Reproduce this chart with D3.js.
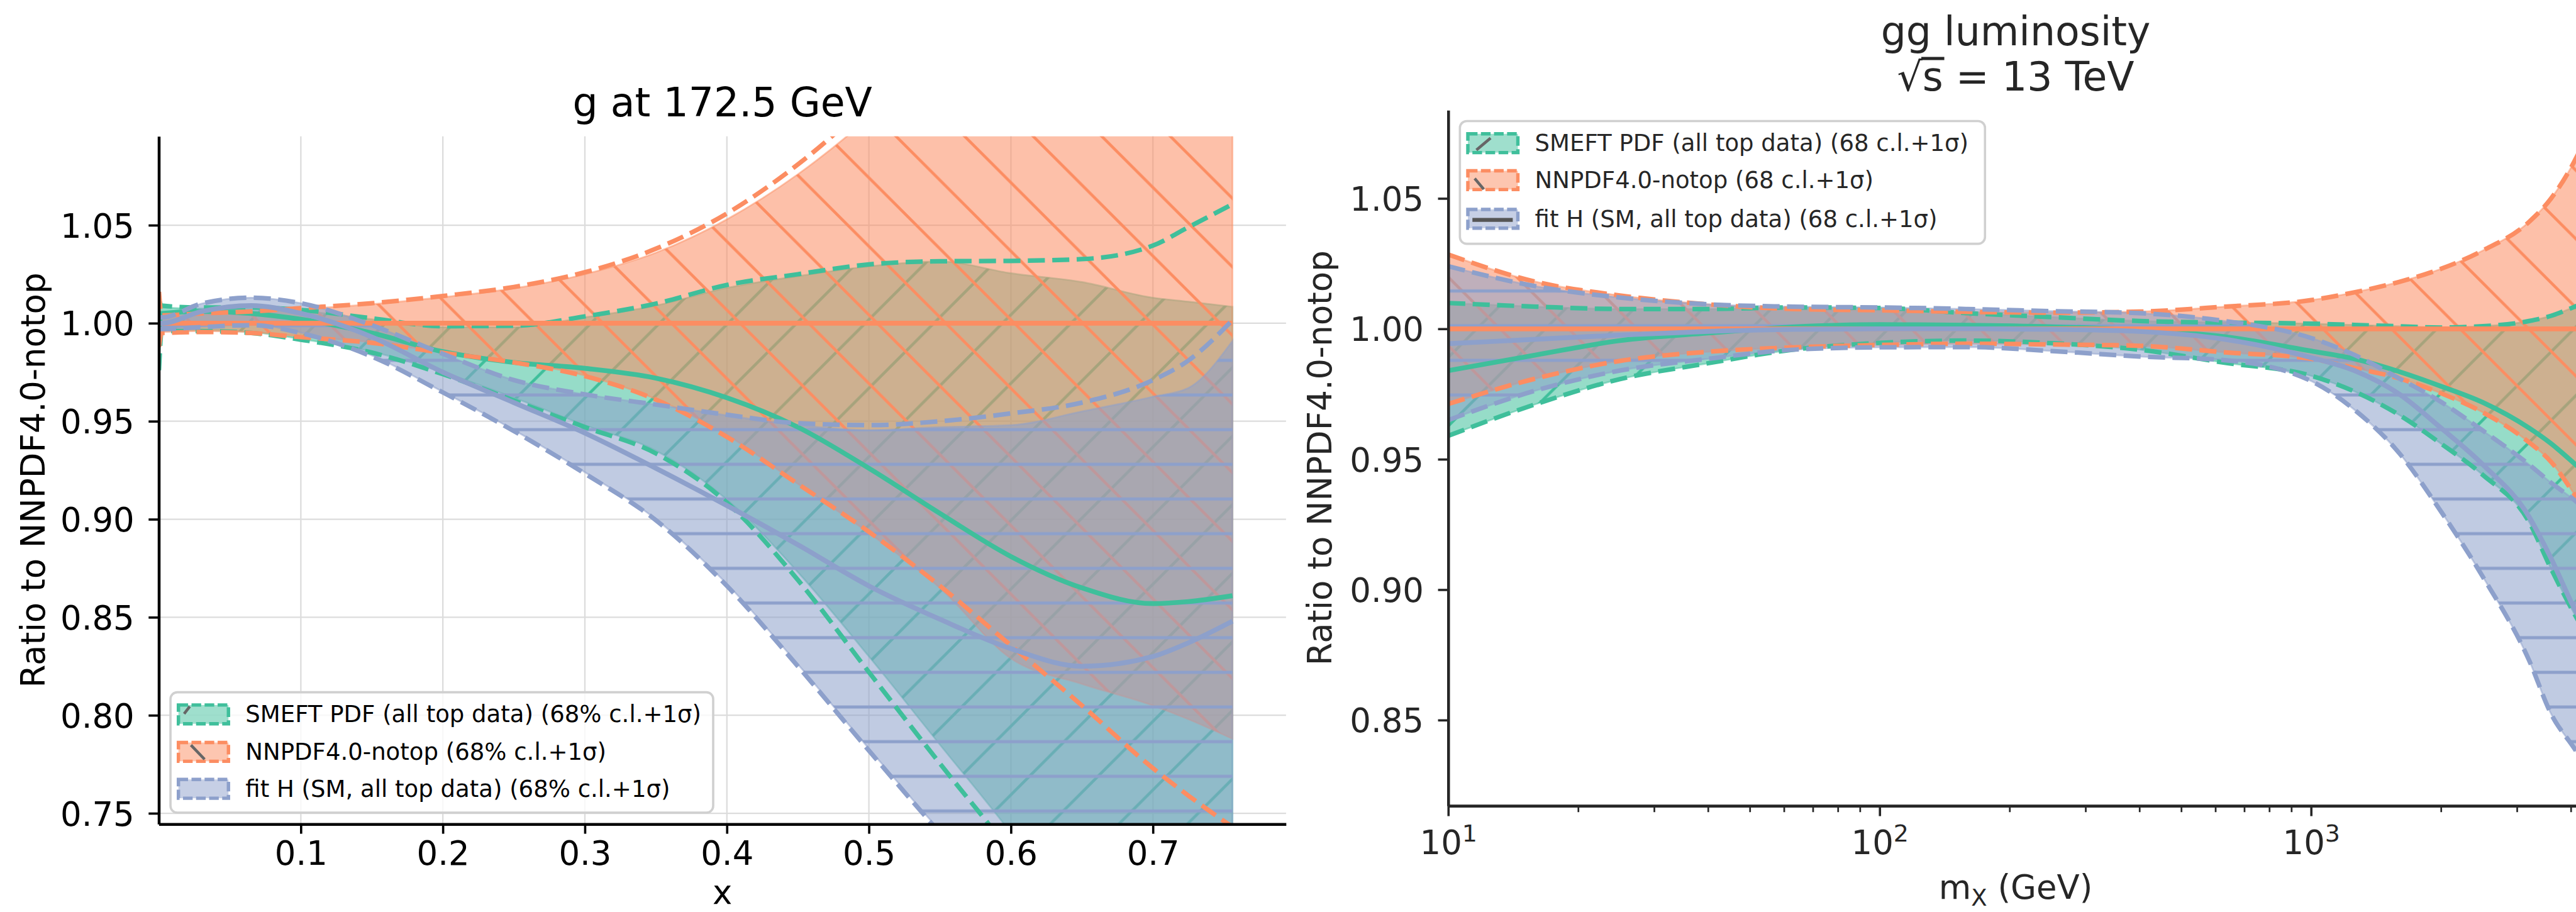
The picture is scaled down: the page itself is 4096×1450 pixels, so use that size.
<!DOCTYPE html>
<html>
<head>
<meta charset="utf-8">
<title>g at 172.5 GeV / gg luminosity</title>
<script src="https://cdn.jsdelivr.net/npm/d3@7"></script>
<style>
  body { margin: 0; background: #fff; }
  svg { display: block; font-family: "DejaVu Sans", sans-serif; }
</style>
</head>
<body>
<svg id="chart" width="4096" height="1450"></svg>
<script>
// ---------- left panel: g at 172.5 GeV, ratio vs x ----------
const xValues      = [0.0001, 0.002, 0.03, 0.065, 0.1, 0.15, 0.2, 0.25, 0.3, 0.35, 0.4, 0.45, 0.5, 0.55, 0.6, 0.65, 0.7, 0.725, 0.756];

const smeftCentral = [0.998, 1.005, 1.006, 1.005, 1.002, 0.995, 0.9855, 0.980, 0.977, 0.972, 0.962, 0.947, 0.926, 0.903, 0.881, 0.865, 0.857, 0.858, 0.861];
const smeftSigUp   = [1.012, 1.009, 1.008, 1.008, 1.0068, 1.0025, 0.9985, 0.9987, 1.0035, 1.010, 1.0195, 1.025, 1.030, 1.0316, 1.0318, 1.0327, 1.0396, 1.049, 1.0607];
const smeftSigDn   = [0.976, 0.996, 0.996, 0.995, 0.9916, 0.985, 0.974, 0.9606, 0.947, 0.9336, 0.9085, 0.869, 0.822, 0.7754, 0.730, 0.680, 0.630, 0.605, 0.580];
const smeftClUp    = [1.011, 1.008, 1.0075, 1.0075, 1.0063, 1.002, 0.998, 0.998, 1.003, 1.009, 1.018, 1.024, 1.029, 1.0315, 1.0255, 1.021, 1.013, 1.011, 1.0084];
const smeftClDn    = [0.977, 0.9965, 0.9965, 0.9955, 0.992, 0.9855, 0.975, 0.962, 0.948, 0.935, 0.910, 0.873, 0.830, 0.785, 0.740, 0.690, 0.640, 0.620, 0.590];

const nnpdfCentral = [1, 1, 1, 1, 1, 1, 1, 1, 1, 1, 1, 1, 1, 1, 1, 1, 1, 1, 1];
const nnpdfSigUp   = [1.016, 1.004, 1.005, 1.006, 1.0077, 1.0102, 1.0139, 1.0185, 1.026, 1.038, 1.056, 1.081, 1.112, 1.145, 1.180, 1.220, 1.260, 1.280, 1.300];
const nnpdfSigDn   = [0.988, 0.995, 0.9955, 0.995, 0.9929, 0.990, 0.9849, 0.980, 0.973, 0.961, 0.942, 0.918, 0.8936, 0.866, 0.8356, 0.805, 0.773, 0.759, 0.743];
const nnpdfClUp    = [1.015, 1.0035, 1.0045, 1.0055, 1.0072, 1.0097, 1.0133, 1.0178, 1.025, 1.036, 1.053, 1.076, 1.105, 1.140, 1.170, 1.210, 1.250, 1.270, 1.290];
const nnpdfClDn    = [0.989, 0.9955, 0.996, 0.9955, 0.9932, 0.9903, 0.9852, 0.9803, 0.9733, 0.9613, 0.943, 0.918, 0.893, 0.865, 0.829, 0.816, 0.805, 0.798, 0.788];

const fitHCentral  = [1.0, 1.0, 1.006, 1.009, 1.005, 0.993, 0.975, 0.9595, 0.944, 0.926, 0.907, 0.887, 0.866, 0.849, 0.834, 0.825, 0.830, 0.837, 0.848];
const fitHSigUp    = [1.003, 1.003, 1.010, 1.013, 1.0102, 0.999, 0.9844, 0.971, 0.9637, 0.9585, 0.9533, 0.949, 0.948, 0.950, 0.954, 0.9595, 0.971, 0.981, 1.0016];
const fitHSigDn    = [0.997, 0.997, 0.998, 0.999, 0.995, 0.983, 0.9647, 0.945, 0.9233, 0.8995, 0.866, 0.825, 0.782, 0.740, 0.700, 0.660, 0.620, 0.600, 0.580];
const fitHClUp     = [1.003, 1.003, 1.010, 1.013, 1.0102, 0.999, 0.9844, 0.971, 0.9637, 0.9585, 0.953, 0.948, 0.9455, 0.947, 0.948, 0.955, 0.9625, 0.967, 0.991];
const fitHClDn     = [0.9972, 0.9972, 0.9982, 0.9992, 0.9952, 0.9835, 0.965, 0.9455, 0.924, 0.900, 0.867, 0.826, 0.783, 0.741, 0.701, 0.661, 0.621, 0.601, 0.581];

// ---------- right panel: gg luminosity, sqrt(s) = 13 TeV ----------
const mxValues     = [10, 16, 25, 40, 63, 100, 160, 250, 400, 630, 1000, 1260, 1600, 2000, 2500, 3200, 3600, 4100, 4300];

const smeftLumC    = [0.984, 0.990, 0.9955, 0.9984, 1.0007, 1.0016, 1.0014, 1.0008, 0.9995, 0.997, 0.9915, 0.9885, 0.9836, 0.978, 0.9718, 0.962, 0.956, 0.948, 0.945];
const smeftLumUp   = [1.0099, 1.0085, 1.0076, 1.0076, 1.0082, 1.008, 1.006, 1.0045, 1.003, 1.0024, 1.002, 1.0015, 1.001, 1.0005, 1.001, 1.003, 1.005, 1.0086, 1.010];
const smeftLumDn   = [0.959, 0.9712, 0.9807, 0.9868, 0.992, 0.9946, 0.9955, 0.9945, 0.992, 0.987, 0.982, 0.976, 0.967, 0.956, 0.944, 0.926, 0.908, 0.890, 0.884];

const nnpdfLumC    = [1, 1, 1, 1, 1, 1, 1, 1, 1, 1, 1, 1, 1, 1, 1, 1, 1, 1, 1];
const nnpdfLumUp   = [1.0285, 1.018, 1.0128, 1.0094, 1.0076, 1.0071, 1.0065, 1.0062, 1.0066, 1.0085, 1.011, 1.014, 1.018, 1.023, 1.030, 1.041, 1.050, 1.065, 1.072];
const nnpdfLumDn   = [0.9712, 0.981, 0.9877, 0.9912, 0.9929, 0.9938, 0.9943, 0.994, 0.9935, 0.991, 0.9885, 0.985, 0.981, 0.9753, 0.968, 0.9565, 0.949, 0.936, 0.931];

const fitHLumC     = [0.9943, 0.996, 0.9976, 0.999, 0.9998, 1.0, 1.0, 0.9998, 0.999, 0.996, 0.989, 0.984, 0.975, 0.962, 0.948, 0.928, 0.912, 0.892, 0.886];
const fitHLumUp    = [1.024, 1.0163, 1.012, 1.0094, 1.0085, 1.0082, 1.0076, 1.0068, 1.006, 1.003, 0.9965, 0.990, 0.981, 0.972, 0.961, 0.948, 0.941, 0.934, 0.931];
const fitHLumDn    = [0.965, 0.9764, 0.984, 0.9885, 0.992, 0.9929, 0.993, 0.9915, 0.9894, 0.988, 0.980, 0.969, 0.9524, 0.930, 0.905, 0.873, 0.8524, 0.8385, 0.833];

// ---------- ticks and labels ----------
const xTicks        = [0.1, 0.2, 0.3, 0.4, 0.5, 0.6, 0.7];
const yTicksLeft    = [0.75, 0.80, 0.85, 0.90, 0.95, 1.00, 1.05];
const yTicksRight   = [0.85, 0.90, 0.95, 1.00, 1.05];
const mxMajorTicks  = [10, 100, 1000];
const mxMinorTicks  = [20, 30, 40, 50, 60, 70, 80, 90, 200, 300, 400, 500, 600, 700, 800, 900, 2000, 3000, 4000];
const legendLeft    = ["SMEFT PDF (all top data) (68% c.l.+1σ)", "NNPDF4.0-notop (68% c.l.+1σ)", "fit H (SM, all top data) (68% c.l.+1σ)"];
const legendRight   = ["SMEFT PDF (all top data) (68 c.l.+1σ)", "NNPDF4.0-notop (68 c.l.+1σ)", "fit H (SM, all top data) (68 c.l.+1σ)"];

const GREEN = "#3fbf9b", ORANGE = "#fc8d62", BLUE = "#8da0cb";

// everything is laid out in reference pixels, then scaled to the window
const S = 4096 / 4533;
const svg = d3.select("#chart");
const defs = svg.append("defs");
const root = svg.append("g").attr("transform", `scale(${S})`);

// hatch patterns ("/", "\", "-")
const P = 120.67, PH = 61;
function diagPattern(id, color, back) {
  const p = defs.append("pattern").attr("id", id).attr("patternUnits", "userSpaceOnUse")
    .attr("width", P).attr("height", P).attr("patternTransform", `translate(${back ? 9.6 : 40},0)`);
  const d = back
    ? `M0,0L${P},${P}M${-P/2},${P/2}L${P/2},${1.5*P}M${P/2},${-P/2}L${1.5*P},${P/2}`
    : `M0,${P}L${P},0M${-P/2},${P/2}L${P/2},${-P/2}M${P/2},${1.5*P}L${1.5*P},${P/2}`;
  p.append("path").attr("d", d).attr("stroke", color).attr("stroke-width", 5).attr("fill", "none");
}
diagPattern("hatch-smeft", GREEN, false);
diagPattern("hatch-nnpdf", ORANGE, true);
defs.append("pattern").attr("id", "hatch-fith").attr("patternUnits", "userSpaceOnUse")
  .attr("width", 50).attr("height", PH).attr("patternTransform", `translate(0,${24 - PH/2})`)
  .append("path").attr("d", `M-5,${PH/2}L55,${PH/2}`).attr("stroke", BLUE).attr("stroke-width", 5.5);

function drawBands(g, xs, x, y, series) {
  const area = d3.area().curve(d3.curveMonotoneX)
    .x(d => x(d[0])).y0(d => y(d[1])).y1(d => y(d[2]));
  const line = d3.line().curve(d3.curveMonotoneX)
    .x(d => x(d[0])).y(d => y(d[1]));
  series.forEach(s => {
    const pts = xs.map((v, i) => [v, s.clDn[i], s.clUp[i]]);
    g.append("path").attr("d", area(pts))
      .attr("fill", s.color).attr("fill-opacity", 0.55)
      .attr("stroke", s.color).attr("stroke-opacity", 0.5).attr("stroke-width", 3);
    g.append("path").attr("d", area(pts)).attr("fill", `url(#${s.hatch})`);
  });
  series.forEach(s => {
    [s.sigUp, s.sigDn].forEach(arr => {
      g.append("path").attr("d", line(xs.map((v, i) => [v, arr[i]])))
        .attr("fill", "none").attr("stroke", s.color)
        .attr("stroke-width", 8).attr("stroke-dasharray", "30,13");
    });
    g.append("path").attr("d", line(xs.map((v, i) => [v, s.central[i]])))
      .attr("fill", "none").attr("stroke", s.color).attr("stroke-width", 8.5);
  });
}

function styleAxis(g, color) {
  g.select(".domain").attr("stroke", color).attr("stroke-width", 5);
  g.selectAll(".tick line").attr("stroke", color).attr("stroke-width", 4);
  g.selectAll(".tick text").attr("fill", color).attr("font-size", 58.5)
    .attr("font-family", "DejaVu Sans");
}

function drawLegend(g, x0, y0, w, h, rows, labels, color) {
  g.append("rect").attr("x", x0).attr("y", y0).attr("width", w).attr("height", h).attr("rx", 12)
    .attr("fill", "#fff").attr("fill-opacity", 0.8).attr("stroke", "#d0d0d0").attr("stroke-width", 4);
  const cols = [GREEN, ORANGE, BLUE];
  labels.forEach((t, i) => {
    const cy = rows[i];
    g.append("rect").attr("x", x0 + 14).attr("y", cy - 16.5).attr("width", 88).attr("height", 33)
      .attr("fill", cols[i]).attr("fill-opacity", 0.5)
      .attr("stroke", cols[i]).attr("stroke-width", 6).attr("stroke-dasharray", "17,6");
    g.append("text").attr("x", x0 + 132).attr("y", cy + 14).attr("font-size", 41)
      .attr("fill", color).text(t);
  });
}

// ================= left panel =================
{
  const L = 279.5, R = 2263, T = 240, B = 1450;
  const x = d3.scaleLinear().domain([0, 0.7937]).range([L, R]);
  const y = d3.scaleLinear().domain([0.7445, 1.0953]).range([B, T]);
  const g = root.append("g");

  defs.append("clipPath").attr("id", "clip-left").append("rect")
    .attr("x", L).attr("y", T).attr("width", R - L).attr("height", B - T);

  // grid
  const grid = g.append("g").attr("stroke", "#dcdcdc").attr("stroke-width", 2.5);
  xTicks.forEach(v => grid.append("line").attr("x1", x(v)).attr("x2", x(v)).attr("y1", T).attr("y2", B));
  yTicksLeft.forEach(v => grid.append("line").attr("x1", L).attr("x2", R).attr("y1", y(v)).attr("y2", y(v)));

  const plot = g.append("g").attr("clip-path", "url(#clip-left)");
  drawBands(plot, xValues, x, y, [
    { color: GREEN,  hatch: "hatch-smeft", central: smeftCentral, sigUp: smeftSigUp, sigDn: smeftSigDn, clUp: smeftClUp, clDn: smeftClDn },
    { color: ORANGE, hatch: "hatch-nnpdf", central: nnpdfCentral, sigUp: nnpdfSigUp, sigDn: nnpdfSigDn, clUp: nnpdfClUp, clDn: nnpdfClDn },
    { color: BLUE,   hatch: "hatch-fith",  central: fitHCentral,  sigUp: fitHSigUp,  sigDn: fitHSigDn,  clUp: fitHClUp,  clDn: fitHClDn }
  ]);

  const xa = g.append("g").attr("transform", `translate(0,${B})`)
    .call(d3.axisBottom(x).tickValues(xTicks).tickFormat(d3.format(".1f")).tickSize(17).tickSizeOuter(0).tickPadding(13));
  styleAxis(xa, "#000");
  const ya = g.append("g").attr("transform", `translate(${L},0)`)
    .call(d3.axisLeft(y).tickValues(yTicksLeft).tickFormat(d3.format(".2f")).tickSize(18).tickSizeOuter(0).tickPadding(25));
  styleAxis(ya, "#000");
  ya.selectAll(".tick text").attr("dy", "0.36em");

  g.append("text").attr("x", (L + R) / 2).attr("y", 205).attr("text-anchor", "middle")
    .attr("font-size", 70).text("g at 172.5 GeV");
  g.append("text").attr("x", (L + R) / 2).attr("y", 1590).attr("text-anchor", "middle")
    .attr("font-size", 58.5).text("x");
  g.append("text").attr("transform", `translate(79,${(T + B) / 2}) rotate(-90)`)
    .attr("text-anchor", "middle").attr("font-size", 58.5).text("Ratio to NNPDF4.0-notop");

  drawLegend(g, 300, 1218, 955, 212, [1257, 1323, 1388], legendLeft, "#000");
  g.append("line").attr("x1", 324).attr("y1", 1256).attr("x2", 334).attr("y2", 1243)
    .attr("stroke", "#666").attr("stroke-width", 5);
  g.append("line").attr("x1", 336).attr("y1", 1311).attr("x2", 360).attr("y2", 1336)
    .attr("stroke", "#666").attr("stroke-width", 5);
}

// ================= right panel =================
{
  const L = 2548.5, R = 4546, T = 194, B = 1418;
  const x = d3.scaleLog().domain([10, Math.pow(10, 3.6312)]).range([L, R]);
  const y = d3.scaleLinear().domain([0.8171, 1.0838]).range([B, T]);
  const g = root.append("g");
  const ink = "#262626";

  defs.append("clipPath").attr("id", "clip-right").append("rect")
    .attr("x", L).attr("y", T).attr("width", R - L).attr("height", B - T);

  const plot = g.append("g").attr("clip-path", "url(#clip-right)");
  drawBands(plot, mxValues, x, y, [
    { color: GREEN,  hatch: "hatch-smeft", central: smeftLumC, sigUp: smeftLumUp, sigDn: smeftLumDn, clUp: smeftLumUp, clDn: smeftLumDn },
    { color: ORANGE, hatch: "hatch-nnpdf", central: nnpdfLumC, sigUp: nnpdfLumUp, sigDn: nnpdfLumDn, clUp: nnpdfLumUp, clDn: nnpdfLumDn },
    { color: BLUE,   hatch: "hatch-fith",  central: fitHLumC,  sigUp: fitHLumUp,  sigDn: fitHLumDn,  clUp: fitHLumUp,  clDn: fitHLumDn }
  ]);

  const minor = g.append("g").attr("transform", `translate(0,${B})`)
    .call(d3.axisBottom(x).tickValues(mxMinorTicks).tickFormat("").tickSize(11).tickSizeOuter(0));
  styleAxis(minor, ink);
  minor.selectAll(".tick line").attr("stroke-width", 3);
  const xa = g.append("g").attr("transform", `translate(0,${B})`)
    .call(d3.axisBottom(x).tickValues(mxMajorTicks).tickFormat(() => "").tickSize(18).tickSizeOuter(0).tickPadding(25));
  styleAxis(xa, ink);
  xa.selectAll(".tick text").each(function(d) {
    const t = d3.select(this);
    t.append("tspan").text("10");
    t.append("tspan").attr("dy", -22).attr("font-size", 42).text(Math.round(Math.log10(d)));
  });
  const ya = g.append("g").attr("transform", `translate(${L},0)`)
    .call(d3.axisLeft(y).tickValues(yTicksRight).tickFormat(d3.format(".2f")).tickSize(18).tickSizeOuter(0).tickPadding(25));
  styleAxis(ya, ink);
  ya.selectAll(".tick text").attr("dy", "0.36em");

  const cx = 3547;
  g.append("text").attr("x", cx).attr("y", 80).attr("text-anchor", "middle")
    .attr("font-size", 70).attr("fill", ink).text("gg luminosity");
  const t2 = g.append("text").attr("x", cx).attr("y", 159).attr("text-anchor", "middle")
    .attr("font-size", 70).attr("fill", ink).text("√s = 13 TeV");
  // vinculum of the square root over "s"
  const n2 = t2.node();
  const sx0 = n2.getStartPositionOfChar(1).x, sx1 = n2.getEndPositionOfChar(1).x;
  g.append("line").attr("x1", sx0 - 2).attr("x2", sx1 + 2).attr("y1", 103).attr("y2", 103)
    .attr("stroke", ink).attr("stroke-width", 5.5);

  const xl = g.append("text").attr("x", cx).attr("y", 1582).attr("text-anchor", "middle")
    .attr("font-size", 58.5).attr("fill", ink);
  xl.append("tspan").text("m");
  xl.append("tspan").attr("dy", 12).attr("font-size", 41).text("X");
  xl.append("tspan").attr("dy", -12).text(" (GeV)");
  g.append("text").attr("transform", `translate(2343,${(T + B) / 2}) rotate(-90)`)
    .attr("text-anchor", "middle").attr("font-size", 58.5).attr("fill", ink).text("Ratio to NNPDF4.0-notop");

  drawLegend(g, 2569, 213, 924, 216, [252, 317, 385], legendRight, ink);
  g.append("line").attr("x1", 2598).attr("y1", 264).attr("x2", 2623).attr("y2", 243)
    .attr("stroke", "#666").attr("stroke-width", 5);
  g.append("line").attr("x1", 2595).attr("y1", 314).attr("x2", 2611).attr("y2", 333)
    .attr("stroke", "#666").attr("stroke-width", 5);
  g.append("line").attr("x1", 2591).attr("y1", 387).attr("x2", 2662).attr("y2", 387)
    .attr("stroke", "#555").attr("stroke-width", 7);
}
</script>
</body>
</html>
